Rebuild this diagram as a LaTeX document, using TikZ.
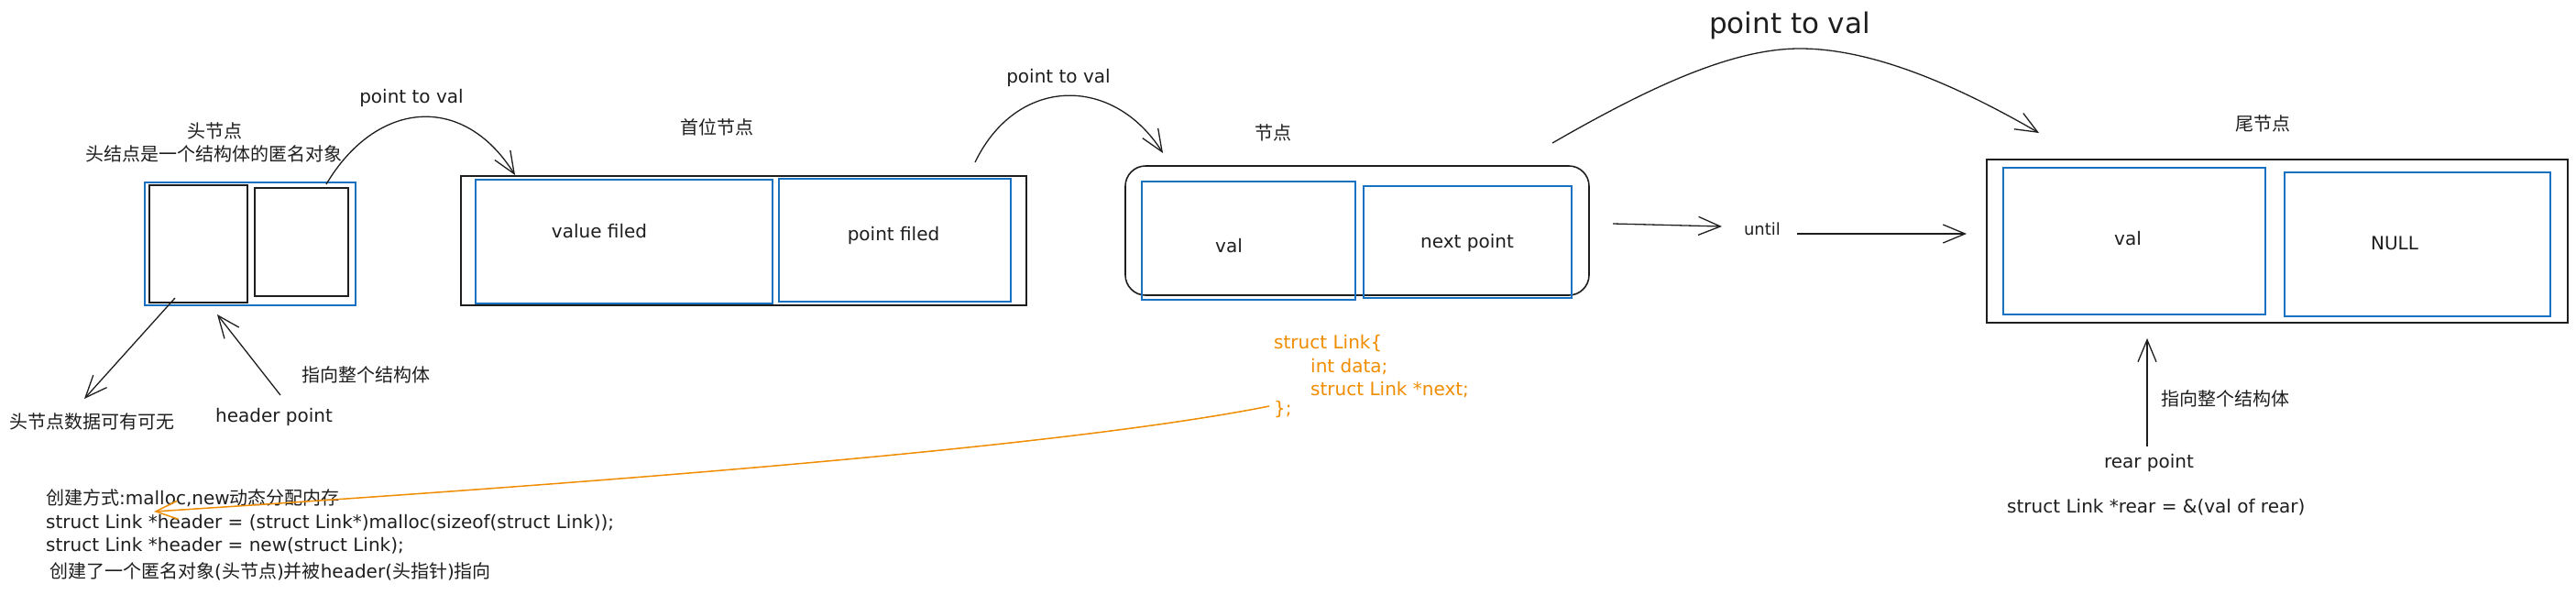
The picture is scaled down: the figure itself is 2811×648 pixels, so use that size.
\documentclass[tikz,border=0pt]{standalone}
\usepackage{fontspec}
\setmainfont{DejaVu Sans}
\newfontfamily\cjkf{Noto Sans CJK SC}
\usetikzlibrary{arrows.meta}
\definecolor{ink}{HTML}{1E1E1E}
\definecolor{exblue}{HTML}{1971C2}
\definecolor{exorange}{HTML}{F08C00}
\tikzset{
  blk/.style={draw=ink, line width=1.6pt, inner sep=0pt, outer sep=0pt},
  blu/.style={draw=exblue, line width=1.4pt, inner sep=0pt, outer sep=0pt},
  lbl/.style={text=ink, font=\fontsize{20}{24}\selectfont, inner sep=0pt},
  zhl/.style={text=ink, font=\fontsize{20}{24}\selectfont\cjkf, inner sep=0pt},
  codel/.style={text=exorange, font=\fontsize{20}{24}\selectfont, inner sep=0pt, anchor=west},
  txtl/.style={text=ink, font=\fontsize{20}{24}\selectfont, inner sep=0pt, anchor=west},
  arr/.style={draw=ink, line width=1.3pt, -{Straight Barb[length=24pt,width=20pt]}},
  oarr/.style={draw=exorange, line width=1.5pt, -{Straight Barb[length=24pt,width=20pt]}},
}
\begin{document}
\begin{tikzpicture}[x=1pt,y=-1pt]
\useasboundingbox (0,0) rectangle (2811,648);

% ---------- head node ----------
\node[blu, minimum width=230pt, minimum height=134pt] (headout) at (273,266) {};
\node[blk, minimum width=107pt, minimum height=128pt] (headdata) at (216.5,266) {};
\node[blk, minimum width=102pt, minimum height=118pt] (headnext) at (329,264) {};
\node[zhl] (hd1) at (234,143) {头节点};
\node[zhl] (hd2) at (233,168) {头结点是一个结构体的匿名对象};
\node[lbl] (ptv1) at (449,107) {point to val};
\node[zhl] (hdopt) at (100,460) {头节点数据可有可无};
\node[lbl] (hp) at (299,455) {header point};
\node[zhl] (hwhole) at (399,409) {指向整个结构体};

% ---------- first node ----------
\node[blk, minimum width=617pt, minimum height=141pt] (firstout) at (811.5,262.5) {};
\node[blu, minimum width=324pt, minimum height=135pt] (vfbox) at (681,263.5) {};
\node[blu, minimum width=253pt, minimum height=134pt] (pfbox) at (976.5,262) {};
\node[zhl] (firstlbl) at (782,139) {首位节点};
\node[lbl] (vft) at (654,252) {value filed};
\node[lbl] (pft) at (975,257) {point filed};
\node[lbl] (ptv2) at (1155,85) {point to val};

% ---------- middle node ----------
\node[blk, rounded corners=22pt, minimum width=506pt, minimum height=141pt] (midout) at (1481,251.5) {};
\node[blu, minimum width=233pt, minimum height=129pt] (valbox) at (1362.5,262.5) {};
\node[blu, minimum width=227pt, minimum height=122pt] (npbox) at (1601.5,264) {};
\node[zhl] (nodelbl) at (1389,145) {节点};
\node[lbl] (valt) at (1341,268) {val};
\node[lbl] (npt) at (1601,265) {next point};
\node[lbl, font=\fontsize{18}{22}\selectfont] (until) at (1923,250) {until};
\node[lbl, font=\fontsize{31}{36}\selectfont] (ptv3) at (1953,28) {point to val};

% ---------- struct code ----------
\node[codel] (cl1) at (1390,375) {struct Link\{};
\node[codel] (cl2) at (1430,400) {int data;};
\node[codel] (cl3) at (1430,425) {struct Link *next;};
\node[codel] (cl4) at (1390,447) {\};};

% ---------- tail node ----------
\node[blk, minimum width=634pt, minimum height=178pt] (tailout) at (2485,263) {};
\node[blu, minimum width=286pt, minimum height=160pt] (tvalbox) at (2329,263) {};
\node[blu, minimum width=290pt, minimum height=157pt] (nullbox) at (2638,266.5) {};
\node[zhl] (taillbl) at (2469,135) {尾节点};
\node[lbl] (tvalt) at (2322,260) {val};
\node[lbl] (nullt) at (2613,265) {NULL};
\node[zhl] (twhole) at (2428,435) {指向整个结构体};
\node[lbl] (rp) at (2345,505) {rear point};
\node[txtl] (rearcode) at (2190,553) {struct Link *rear = \&(val of rear)};

% ---------- bottom notes ----------
\node[txtl] (bl1) at (50,543) {{\cjkf 创建方式}:malloc,new{\cjkf 动态分配内存}};
\node[txtl] (bl2) at (50,570) {struct Link *header = (struct Link*)malloc(sizeof(struct Link));};
\node[txtl] (bl3) at (50,595) {struct Link *header = new(struct Link);};
\node[txtl] (bl4) at (54,623) {{\cjkf 创建了一个匿名对象}({\cjkf 头节点}){\cjkf 并被}header({\cjkf 头指针}){\cjkf 指向}};

% ---------- connector ends ----------
\coordinate (a1s) at (356,201);
\coordinate (a1e) at (562,191);
\coordinate (a2s) at (1064,177);
\coordinate (a2e) at (1269,167);
\coordinate (a3s) at (1694,156);
\coordinate (a3m) at (1964,53);
\coordinate (a3e) at (2225,145);
\coordinate (u1s) at (1760,244);
\coordinate (u1e) at (1879,247);
\coordinate (u2s) at (1961,255);
\coordinate (u2e) at (2146,255);
\coordinate (hds) at (191,325);
\coordinate (hde) at (92,435);
\coordinate (hps) at (306,431);
\coordinate (hpe) at (237,343);
\coordinate (rps) at (2343,487);
\coordinate (rpe) at (2343,369);
\coordinate (os) at (1385,443);
\coordinate (oe) at (168,558);

% ---------- connectors ----------
\draw[arr] (a1s) .. controls (410,110) and (505,100) .. (a1e);
\draw[arr] (a2s) .. controls (1110,82) and (1215,82) .. (a2e);
\draw[arr] (a3s) .. controls (1800,95) and (1890,53) .. (a3m) .. controls (2040,53) and (2130,90) .. (a3e);
\draw[arr] (u1s) -- (u1e);
\draw[arr] (u2s) -- (u2e);
\draw[arr] (hds) -- (hde);
\draw[arr] (hps) -- (hpe);
\draw[arr] (rps) -- (rpe);
\draw[oarr] (os) .. controls (1150,490) and (600,530) .. (oe);
\end{tikzpicture}
\end{document}
